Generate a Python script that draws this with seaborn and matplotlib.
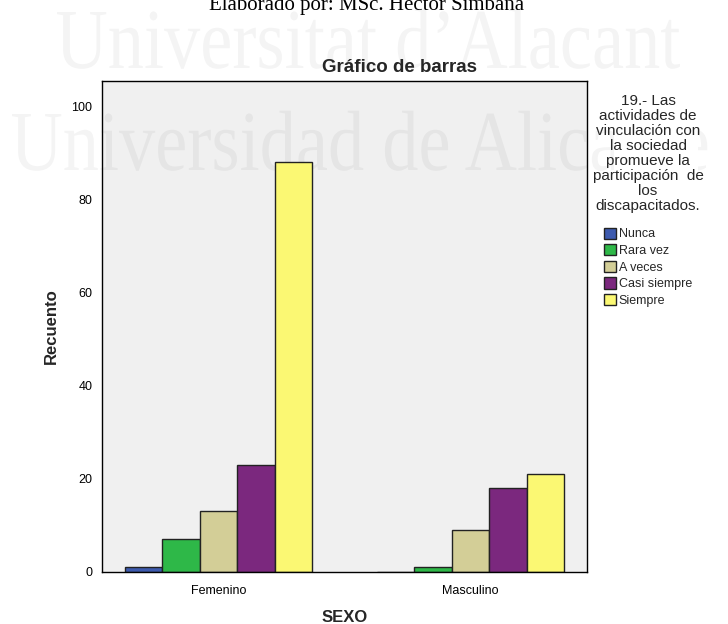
import matplotlib
matplotlib.use("Agg")
import matplotlib.pyplot as plt
import seaborn as sns
import pandas as pd
from matplotlib.textpath import TextPath
from matplotlib.patches import PathPatch, Rectangle
from matplotlib.font_manager import FontProperties
from matplotlib.transforms import Affine2D

# Frecuencias por sexo y respuesta
sexo = ["Femenino", "Masculino"]
respuestas = ["Nunca", "Rara vez", "A veces", "Casi siempre", "Siempre"]
conteo_femenino = [1, 7, 13, 23, 88]
conteo_masculino = [0, 1, 9, 18, 21]
colores = ["#3D5AAE", "#2EB848", "#D3CE97", "#7B287E", "#FBF873"]
titulo_leyenda = ("19.- Las\nactividades de\nvinculación con\nla sociedad\npromueve la\n"
                  "participación  de\nlos\ndiscapacitados.")

df = pd.DataFrame({
    "SEXO": [s for s in sexo for _ in respuestas],
    "Respuesta": respuestas * len(sexo),
    "Recuento": conteo_femenino + conteo_masculino,
})

W, H = 728, 624
sns.set_theme(style="white")
plt.rcParams["font.family"] = ["Liberation Sans", "DejaVu Sans"]

fig = plt.figure(figsize=(W / 100, H / 100), dpi=100)
ax = fig.add_axes([102 / W, 52 / H, 485 / W, 491 / H])
ax.set_facecolor("#F0F0F0")

sns.barplot(data=df, x="SEXO", y="Recuento", hue="Respuesta",
            hue_order=respuestas, order=sexo, palette=colores,
            width=0.742, gap=0, edgecolor="#222222", linewidth=1.0,
            saturation=1, errorbar=None, ax=ax, zorder=2)

ax.set_xlim(-0.462, 1.462)
ax.set_ylim(0, 105.4)
ax.set_yticks([0, 20, 40, 60, 80, 100])
ax.tick_params(axis="both", direction="out", length=5, width=1, color="black",
               labelsize=9, labelcolor="black", pad=2)
ax.tick_params(axis="x", pad=4)
for sp in ax.spines.values():
    sp.set_color("black")
    sp.set_linewidth(1.0)

ax.set_xlabel("SEXO", fontsize=12, fontweight="bold", labelpad=10)
ax.set_ylabel("Recuento", fontsize=12, fontweight="bold", labelpad=9)

fig.text(399.5 / W, 1 - 67 / H, "Gráfico de barras", ha="center", va="center",
         fontsize=13.5, fontweight="bold")

leg = ax.legend(title=titulo_leyenda, loc="upper center",
                bbox_to_anchor=(648 / W, 1 - 84 / H), bbox_transform=fig.transFigure,
                frameon=False, fontsize=9, title_fontsize=11,
                handlelength=1.0, handleheight=1.0, handletextpad=0.2,
                labelspacing=0.3, borderpad=0.3)
leg.get_title().set_multialignment("center")
leg.get_title().set_linespacing(1.09)
leg._legend_box.sep = 10.5
for h in leg.legend_handles:
    h.set_edgecolor("#222222")
    h.set_linewidth(1.0)

# Fondo blanco tras el bloque del título de la leyenda
ax.add_artist(Rectangle((614, H - 215), 84, 128, transform=Affine2D(),
                        facecolor="white", edgecolor="none", zorder=0.8,
                        clip_on=False))

# Pie de elaboración
serif = ["Liberation Serif", "DejaVu Serif"]
fig.text(367 / W, 1 - 10 / H, "Elaborado por: MSc. Héctor Simbaña", ha="center",
         va="baseline", fontsize=15, family=serif, color="black")

# Marca de agua institucional
fp = FontProperties(family="Liberation Serif")
cap = TextPath((0, 0), "H", size=1, prop=fp).get_extents().height
sy = 56 / cap
linea1 = TextPath((0, 0), "Universitat d\u2019Alacant", size=1, prop=fp)
e1 = linea1.get_extents()
sx = (680 - 57) / e1.width
for txt, left, base in [("Universitat d\u2019Alacant", 57, 68),
                        ("Universidad de Alicante", 12, 170)]:
    tp = TextPath((0, 0), txt, size=1, prop=fp)
    ext = tp.get_extents()
    tr = Affine2D().translate(-ext.x0, 0).scale(sx, sy).translate(left, H - base)
    ax.add_artist(PathPatch(tp, transform=tr, facecolor="black", edgecolor="none",
                            alpha=0.042, zorder=0.5, clip_on=False))

fig.savefig("out.png", dpi=100)
